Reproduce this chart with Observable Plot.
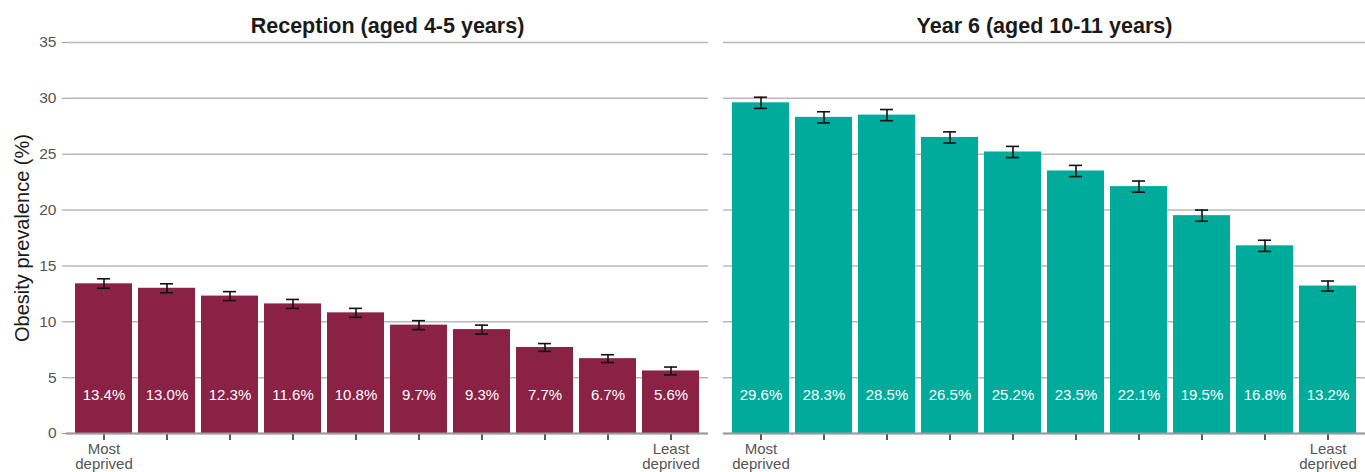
<!DOCTYPE html>
<html>
<head>
<meta charset="utf-8">
<script src="https://cdn.jsdelivr.net/npm/d3@7"></script>
<script src="https://cdn.jsdelivr.net/npm/@observablehq/plot@0.6"></script>
<style>
  html, body { margin: 0; padding: 0; background: #fff; }
  svg { font-family: "Liberation Sans", Arial, sans-serif; }
</style>
</head>
<body>
<div id="chart"></div>
<script>
const stages = ["Reception (aged 4-5 years)", "Year 6 (aged 10-11 years)"];
const deciles = [1, 2, 3, 4, 5, 6, 7, 8, 9, 10];
const decileLabels = {1: "Most\ndeprived", 10: "Least\ndeprived"};
const yTicks = [0, 5, 10, 15, 20, 25, 30, 35];
const yLabel = "Obesity prevalence (%)";

const receptionValues = [13.4, 13.0, 12.3, 11.6, 10.8, 9.7, 9.3, 7.7, 6.7, 5.6];
const receptionLower  = [13.0, 12.6, 11.9, 11.2, 10.4, 9.3, 8.9, 7.35, 6.35, 5.25];
const receptionUpper  = [13.85, 13.4, 12.7, 12.0, 11.2, 10.1, 9.7, 8.05, 7.05, 5.95];

const year6Values = [29.6, 28.3, 28.5, 26.5, 25.2, 23.5, 22.1, 19.5, 16.8, 13.2];
const year6Lower  = [29.1, 27.8, 28.0, 26.0, 24.7, 23.0, 21.6, 19.0, 16.3, 12.75];
const year6Upper  = [30.1, 28.8, 29.0, 27.0, 25.7, 24.0, 22.6, 20.0, 17.3, 13.65];

const colors = ["#8a2245", "#00ab9b"];

const rows = [];
deciles.forEach((d, i) => {
  rows.push({stage: stages[0], decile: d, value: receptionValues[i], lo: receptionLower[i], hi: receptionUpper[i]});
});
deciles.forEach((d, i) => {
  rows.push({stage: stages[1], decile: d, value: year6Values[i], lo: year6Lower[i], hi: year6Upper[i]});
});

const chart = Plot.plot({
  width: 1365,
  height: 472,
  marginTop: 42,
  marginBottom: 39,
  marginLeft: 65,
  marginRight: 0,
  style: {fontFamily: '"Liberation Sans", Arial, sans-serif', background: "#fff"},
  fx: {domain: stages, paddingInner: 0.023, paddingOuter: 0},
  x: {domain: deciles, paddingInner: 0.1, paddingOuter: 0.11},
  y: {domain: [0, 35]},
  color: {domain: stages, range: colors},
  marks: [
    Plot.gridY(yTicks, {stroke: "#b8b8b8", strokeOpacity: 1, strokeWidth: 1.5}),
    Plot.axisFx({anchor: "top", label: null, tickSize: 0, tickPadding: 10, fontSize: 21.5, fontWeight: "bold", fill: "#1a1a1a"}),
    Plot.axisY(yTicks, {
      label: null, fontSize: 15.5, tickSize: 4, tickPadding: 6, stroke: "#999", color: "#555"
    }),
    Plot.axisY([], {
      label: yLabel, labelAnchor: "center", labelArrow: "none", tickSize: 0,
      labelOffset: 52, fontSize: 20, color: "#1a1a1a"
    }),
    Plot.axisX({
      tickFormat: d => decileLabels[d] || "", tickSize: 7, tickPadding: 2,
      fontSize: 15, color: "#555", stroke: "#222", strokeWidth: 1.5, label: null, lineHeight: 1.05
    }),
    Plot.barY(rows, {x: "decile", y: "value", fx: "stage", fill: "stage"}),
    Plot.ruleY([0], {stroke: "#9a9a9a", strokeWidth: 2}),
    Plot.text(rows, {
      x: "decile", y: 0, fx: "stage", text: d => d.value.toFixed(1) + "%",
      dy: -38, fill: "white", fontSize: 15
    }),
    Plot.ruleX(rows, {x: "decile", y1: "lo", y2: "hi", fx: "stage", stroke: "#111", strokeWidth: 1.6}),
    Plot.tickY(rows, {x: "decile", y: "lo", fx: "stage", stroke: "#111", strokeWidth: 1.6, insetLeft: 22, insetRight: 22}),
    Plot.tickY(rows, {x: "decile", y: "hi", fx: "stage", stroke: "#111", strokeWidth: 1.6, insetLeft: 22, insetRight: 22})
  ]
});

document.getElementById("chart").appendChild(chart);
</script>
</body>
</html>
